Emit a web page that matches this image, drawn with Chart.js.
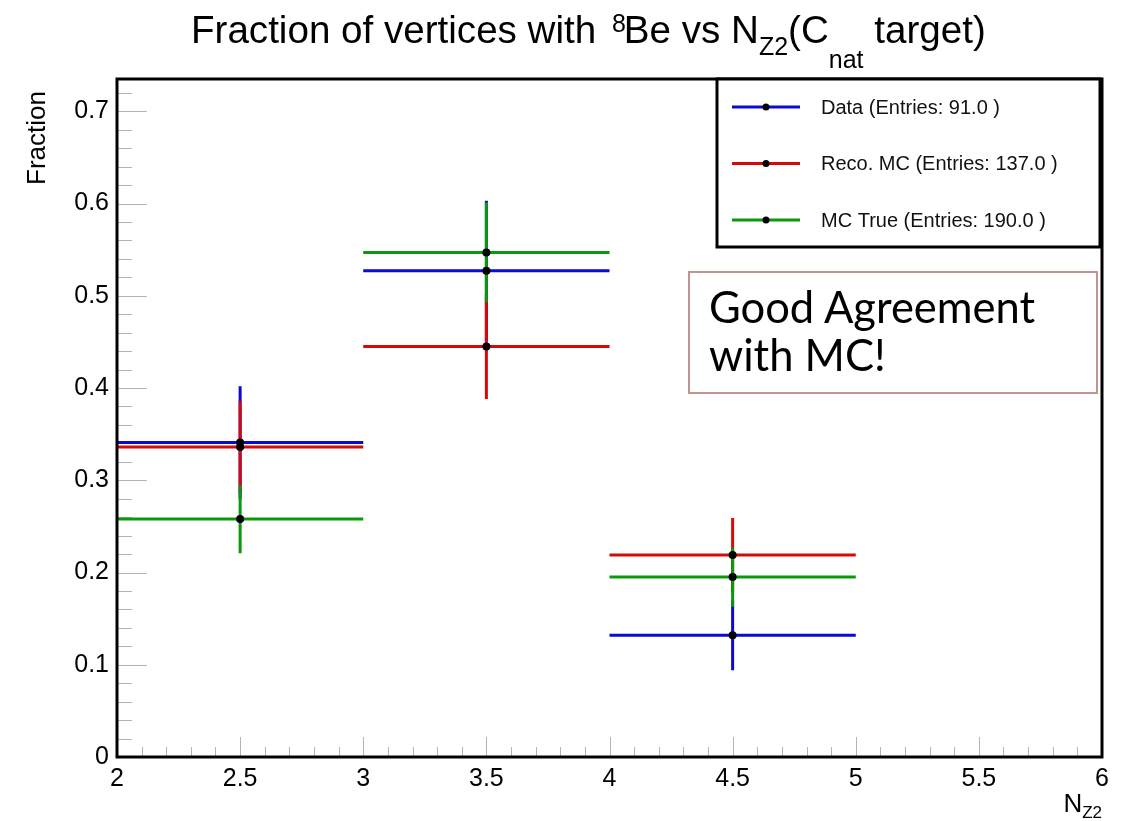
<!DOCTYPE html>
<html>
<head>
<meta charset="utf-8">
<script src="https://cdn.jsdelivr.net/npm/chart.js@4.4.1/dist/chart.umd.min.js"></script>
<style>
body{margin:0;background:#fff;}
#wrap{position:relative;width:1130px;height:821px;font-family:'Liberation Sans',Arial,sans-serif;color:#000;}
#c{position:absolute;left:0;top:0;}
#title{position:absolute;left:191px;top:11px;font-size:38.6px;line-height:38px;white-space:pre;}
#title span{position:relative;font-size:25px;}
#ytitle{position:absolute;left:0;top:0;font-size:26px;line-height:26px;white-space:pre;transform-origin:0 0;transform:translate(23px,185px) rotate(-90deg);}
#xtitle{position:absolute;right:28px;top:790px;font-size:26px;line-height:26px;white-space:pre;}
#xtitle span{position:relative;top:6px;font-size:17px;}
#note{position:absolute;left:688px;top:271px;width:410px;height:123px;box-sizing:border-box;border:2px solid #c3938d;padding:9px 0 0 19px;font-family:Lato,'Open Sans',sans-serif;font-size:43.5px;line-height:48px;white-space:pre;}
</style>
</head>
<body>
<div id="wrap">
<canvas id="c" width="1130" height="821"></canvas>
<div id="title">Fraction of vertices with <span style="top:-11px;margin-left:5px">8</span><span style="font-size:38.6px;margin-left:-2px">Be vs N</span><span style="top:12px">Z2</span>(C<span style="top:25px">nat</span> target)</div>
<div id="ytitle">Fraction</div>
<div id="xtitle">N<span>Z2</span></div>
<div id="note">Good Agreement
with MC!</div>
</div>
<script>
// bins of N_Z2
const binLo=[2,3,4];
const binHi=[3,4,5];
const binMid=[2.5,3.5,4.5];

// fraction per bin and its error
const dataFrac=[0.341,0.527,0.132];
const dataErr=[0.061,0.076,0.038];
const recoFrac=[0.336,0.445,0.219];
const recoErr=[0.050,0.057,0.040];
const trueFrac=[0.258,0.547,0.195];
const trueErr=[0.037,0.054,0.032];

const seriesNames=['Data (Entries: 91.0 )','Reco. MC (Entries: 137.0 )','MC True (Entries: 190.0 )'];
const seriesColors=['#0a0ad4','#d40a0a','#0a990a'];

// horizontal bin-width bars + vertical error bars, split by nulls
function errorPath(frac,err){
  const pts=[];
  frac.forEach((v,i)=>{
    pts.push({x:binLo[i],y:v},{x:binHi[i],y:v},{x:binMid[i],y:null});
    pts.push({x:binMid[i],y:v-err[i]},{x:binMid[i],y:v+err[i]},{x:binMid[i],y:null});
  });
  return pts;
}
function dots(){
  const pts=[];
  [dataFrac,recoFrac,trueFrac].forEach(f=>f.forEach((v,i)=>pts.push({x:binMid[i],y:v})));
  return pts;
}
function errSet(frac,err,col){
  return {data:errorPath(frac,err),showLine:true,spanGaps:false,borderColor:col,borderWidth:3,borderCapStyle:'butt',pointRadius:0,pointHoverRadius:0};
}

// ROOT-like inner ticks, frame and legend box
const framePlugin={
  id:'frame',
  beforeDatasetsDraw(chart){
    const {ctx,chartArea:a,scales:{x,y}}=chart;
    ctx.save();
    ctx.strokeStyle='#b4b4b4';ctx.lineWidth=1;
    for(let i=1;i<=36;i++){
      const py=Math.round(y.getPixelForValue(i*0.02))+0.5;
      const len=i%5===0?30:15;
      ctx.beginPath();ctx.moveTo(a.left,py);ctx.lineTo(a.left+len,py);ctx.stroke();
    }
    for(let i=1;i<40;i++){
      const px=Math.round(x.getPixelForValue(2+i*0.1))+0.5;
      const len=i%5===0?20:10;
      ctx.beginPath();ctx.moveTo(px,a.bottom);ctx.lineTo(px,a.bottom-len);ctx.stroke();
    }
    ctx.restore();
  },
  afterDatasetsDraw(chart){
    const {ctx,chartArea:a}=chart;
    ctx.save();
    ctx.strokeStyle='#000';ctx.lineWidth=3;
    ctx.strokeRect(a.left,a.top,a.right-a.left,a.bottom-a.top);
    ctx.restore();
  },
  afterDraw(chart){
    const ctx=chart.ctx;
    ctx.save();
    ctx.fillStyle='#fff';ctx.fillRect(717,79,383,168);
    ctx.strokeStyle='#000';ctx.lineWidth=3;ctx.strokeRect(717,79,383,168);
    ctx.font="20px 'Liberation Sans', Arial, sans-serif";
    ctx.textBaseline='middle';
    seriesNames.forEach((n,i)=>{
      const ry=107+i*56.5;
      ctx.strokeStyle=seriesColors[i];ctx.lineWidth=3;
      ctx.beginPath();ctx.moveTo(732,ry);ctx.lineTo(800,ry);ctx.stroke();
      ctx.fillStyle='#000';
      ctx.beginPath();ctx.arc(766,ry,3.5,0,Math.PI*2);ctx.fill();
      ctx.fillStyle='#111';ctx.fillText(n,821,ry+1);
    });
    ctx.restore();
  }
};

const tickFont={family:"'Liberation Sans', Arial, sans-serif",size:25};

new Chart(document.getElementById('c'),{
  type:'scatter',
  data:{datasets:[
    {data:dots(),pointRadius:4,pointHoverRadius:4,pointBackgroundColor:'#000',pointBorderWidth:0,showLine:false},
    errSet(trueFrac,trueErr,seriesColors[2]),
    errSet(recoFrac,recoErr,seriesColors[1]),
    errSet(dataFrac,dataErr,seriesColors[0])
  ]},
  options:{
    responsive:false,animation:false,
    layout:{padding:{left:0,top:79,right:28,bottom:0}},
    plugins:{legend:{display:false},tooltip:{enabled:false}},
    scales:{
      x:{type:'linear',min:2,max:6,
        grid:{display:false,drawTicks:false},border:{display:false},
        ticks:{stepSize:0.5,color:'#000',font:tickFont,padding:7,maxRotation:0,callback:v=>String(v)},
        afterFit(s){s.height=64;}},
      y:{type:'linear',min:0,max:0.735,
        grid:{display:false,drawTicks:false},border:{display:false},
        ticks:{stepSize:0.1,includeBounds:false,color:'#000',font:tickFont,padding:8,callback:v=>v===0?'0':v.toFixed(1)},
        afterFit(s){s.width=117;}}
    }
  },
  plugins:[framePlugin]
});
</script>
</body>
</html>
